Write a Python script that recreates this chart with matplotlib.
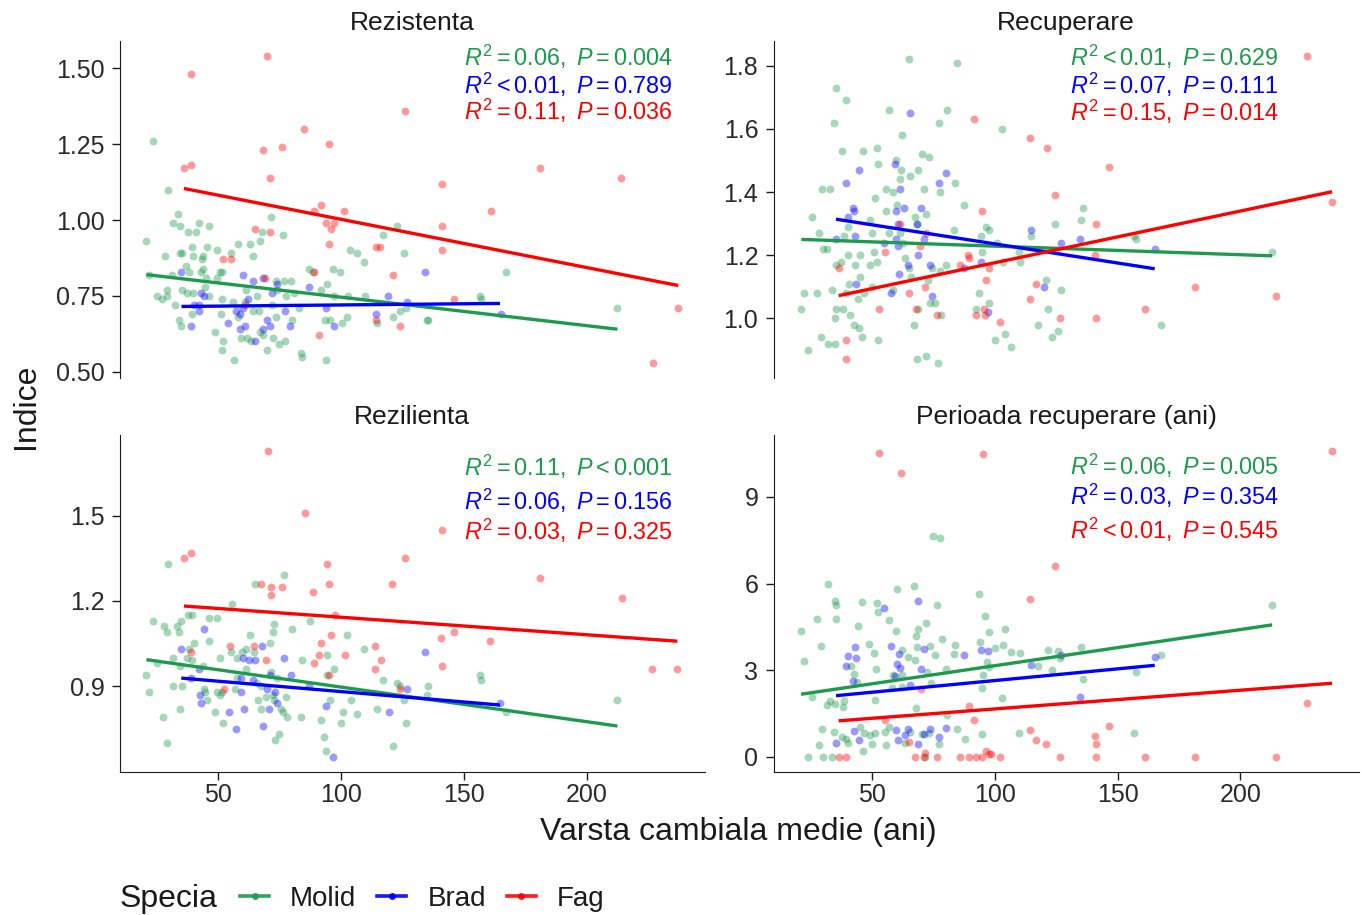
import matplotlib
matplotlib.use("Agg")
import matplotlib.pyplot as plt
from matplotlib.lines import Line2D

plt.rcParams['font.family'] = ['Liberation Sans', 'DejaVu Sans']
plt.rcParams['mathtext.fontset'] = 'custom'
plt.rcParams['mathtext.rm'] = 'Liberation Sans'
plt.rcParams['mathtext.it'] = 'Liberation Sans:italic'

specii = ["Molid", "Brad", "Fag"]
culori = {"Molid": "#1d9a4b", "Brad": "#0000ff", "Fag": "#ff0000"}

# (varsta cambiala medie, indice) pentru fiecare arbore
rezistenta_molid = [
    (23.4, 1.26), (29.6, 1.10), (33.4, 1.02), (31.5, 0.99), (34.5, 0.98), (42.2, 0.99), (46.1, 0.98),
    (37.8, 0.96), (40.8, 0.96), (71.6, 1.01), (67.8, 0.96), (76.3, 0.95), (20.7, 0.93), (39.1, 0.91),
    (45.4, 0.91), (49.4, 0.90), (57.9, 0.92), (62.9, 0.92), (66.8, 0.93), (28.1, 0.88), (34.5, 0.89),
    (35.1, 0.89), (39.8, 0.88), (43.3, 0.87), (43.9, 0.88), (55.3, 0.89), (64.0, 0.88), (103.8, 0.90),
    (106.5, 0.89), (109.5, 0.86), (117.2, 0.95), (122.9, 0.98), (125.5, 0.89), (21.9, 0.82), (31.2, 0.82),
    (37.0, 0.85), (38.2, 0.83), (42.8, 0.83), (43.9, 0.84), (50.7, 0.83), (51.5, 0.83), (44.8, 0.81),
    (49.4, 0.81), (87.1, 0.84), (88.7, 0.83), (96.8, 0.84), (99.7, 0.83), (29.3, 0.77), (35.1, 0.77),
    (37.4, 0.76), (39.8, 0.76), (44.4, 0.78), (46.2, 0.75), (51.3, 0.74), (56.0, 0.73), (61.1, 0.77),
    (65.9, 0.75), (73.3, 0.80), (76.7, 0.80), (79.5, 0.80), (74.0, 0.77), (77.4, 0.75), (80.8, 0.76),
    (91.7, 0.77), (94.4, 0.79), (97.1, 0.75), (102.8, 0.75), (109.6, 0.75), (25.1, 0.75), (27.2, 0.74),
    (28.9, 0.75), (32.3, 0.72), (50.9, 0.69), (58.0, 0.68), (64.0, 0.70), (66.6, 0.70), (73.3, 0.68),
    (80.1, 0.67), (82.9, 0.71), (93.3, 0.67), (95.3, 0.67), (100.5, 0.66), (102.4, 0.68), (34.0, 0.67),
    (34.8, 0.65), (39.3, 0.69), (48.5, 0.63), (51.9, 0.60), (51.6, 0.57), (56.4, 0.54), (59.4, 0.61),
    (61.8, 0.61), (63.2, 0.60), (67.1, 0.63), (68.2, 0.62), (69.8, 0.57), (72.1, 0.61), (74.6, 0.59),
    (77.2, 0.60), (83.5, 0.56), (84.2, 0.55), (93.7, 0.54), (114.8, 0.66), (121.1, 0.68), (124.0, 0.70),
    (126.4, 0.71), (72.0, 0.72), (60.7, 0.73), (167.2, 0.83), (156.4, 0.75), (156.9, 0.74), (135.5, 0.67),
    (134.8, 0.67), (212.5, 0.71),
]
rezistenta_brad = [
    (35, 0.83), (60, 0.82), (64, 0.80), (68, 0.81), (74, 0.79), (87, 0.78), (43, 0.76), (44, 0.75),
    (62, 0.74), (72, 0.76), (40, 0.72), (42, 0.72), (42, 0.70), (57, 0.70), (59, 0.69), (60, 0.71),
    (77, 0.70), (94, 0.71), (119, 0.75), (127, 0.73), (114, 0.69), (39, 0.65), (54, 0.66), (61, 0.65),
    (59, 0.64), (70, 0.67), (71, 0.65), (68, 0.64), (79, 0.65), (97, 0.65), (65, 0.60), (134, 0.83),
    (165, 0.69),
]
rezistenta_fag = [
    (70, 1.54), (39, 1.48), (126, 1.36), (85, 1.30), (68, 1.23), (76, 1.24), (95, 1.25), (36, 1.17),
    (39, 1.18), (71, 1.14), (92, 1.05), (89, 1.03), (101, 1.03), (94, 0.99), (97, 0.99), (96, 0.97),
    (65, 0.97), (71, 0.96), (95, 0.92), (114, 0.91), (116, 0.91), (52, 0.87), (55, 0.87), (89, 0.83),
    (121, 0.82), (69, 0.81), (61, 0.72), (114, 0.67), (124, 0.65), (91, 0.62), (181, 1.17), (214, 1.14),
    (141, 1.12), (161, 1.03), (141, 0.98), (141, 0.90), (146, 0.74), (237, 0.71), (227, 0.53),
]

recuperare_molid = [
    (65.1, 1.82), (84.5, 1.81), (35.2, 1.73), (39.5, 1.69), (34.5, 1.62), (56.9, 1.66), (80.4, 1.66),
    (77.3, 1.62), (62.2, 1.58), (102.8, 1.60), (37.8, 1.53), (46.5, 1.53), (52.0, 1.54), (70.2, 1.52),
    (73.2, 1.51), (59.8, 1.50), (52.4, 1.49), (61.9, 1.47), (68.6, 1.47), (65.3, 1.45), (61.5, 1.44),
    (29.6, 1.41), (33.0, 1.41), (55.6, 1.41), (58.4, 1.40), (71.3, 1.41), (77.6, 1.40), (83.8, 1.43),
    (51.3, 1.38), (60.2, 1.36), (55.8, 1.34), (72.0, 1.33), (87.6, 1.36), (25.5, 1.32), (49.0, 1.31),
    (67.6, 1.32), (68.2, 1.30), (28.5, 1.27), (40.1, 1.29), (49.8, 1.27), (56.8, 1.27), (61.4, 1.27),
    (94.3, 1.26), (96.2, 1.29), (97.6, 1.28), (83.3, 1.28), (38.4, 1.26), (62.5, 1.24), (30.0, 1.22),
    (31.6, 1.22), (94.8, 1.21), (100.9, 1.24), (109.7, 1.21), (124.4, 1.30), (114.9, 1.26), (40.3, 1.20),
    (45.1, 1.20), (50.9, 1.21), (35.3, 1.17), (37.4, 1.18), (42.9, 1.17), (49.2, 1.17), (51.9, 1.18),
    (63.6, 1.19), (64.9, 1.16), (79.9, 1.17), (74.2, 1.16), (103.4, 1.18), (110.1, 1.18), (40.5, 1.11),
    (45.0, 1.13), (50.0, 1.10), (58.4, 1.09), (66.0, 1.13), (72.7, 1.12), (77.8, 1.15), (22.3, 1.08),
    (27.7, 1.08), (33.7, 1.09), (39.5, 1.08), (44.3, 1.06), (46.6, 1.08), (93.4, 1.08), (120.9, 1.12),
    (126.8, 1.09), (21.2, 1.03), (35.5, 1.03), (38.3, 1.03), (35.0, 1.00), (41.2, 1.01), (42.8, 0.98),
    (44.6, 0.97), (73.5, 1.05), (75.5, 1.05), (68.7, 1.03), (78.2, 1.01), (92.4, 1.03), (97.5, 1.05),
    (29.3, 0.94), (31.9, 0.92), (35.0, 0.92), (45.8, 0.94), (52.3, 0.93), (67.2, 0.98), (100.2, 0.93),
    (104.3, 0.95), (106.7, 0.91), (117.6, 0.98), (121.5, 1.03), (123.3, 0.94), (125.8, 0.96), (23.8, 0.90),
    (68.3, 0.87), (72.1, 0.88), (76.7, 0.86), (135.9, 1.35), (135.2, 1.31), (156.8, 1.26), (157.3, 1.25),
    (212.9, 1.21), (167.5, 0.98),
]
recuperare_brad = [
    (65.3, 1.65), (44.6, 1.47), (39.3, 1.43), (59.5, 1.49), (79.9, 1.46), (77.1, 1.43), (61.5, 1.41),
    (42.2, 1.35), (42.6, 1.34), (63.0, 1.35), (69.9, 1.35), (59.8, 1.34), (68.3, 1.30), (60.4, 1.30),
    (40.2, 1.32), (35.3, 1.25), (42.9, 1.26), (59.9, 1.25), (54.9, 1.24), (60.6, 1.23), (71.3, 1.25),
    (68.7, 1.20), (64.6, 1.17), (73.5, 1.17), (94.3, 1.18), (87.5, 1.16), (114.9, 1.28), (127.1, 1.24),
    (61.0, 1.14), (43.5, 1.11), (57.7, 1.08), (74.3, 1.07), (119.9, 1.10), (97.1, 1.02), (134.8, 1.25),
    (165.1, 1.22),
]
recuperare_fag = [
    (91.5, 1.63), (114.2, 1.57), (121.1, 1.54), (124.4, 1.39), (94.8, 1.34), (72.0, 1.27), (69.7, 1.23),
    (55.3, 1.21), (89.1, 1.20), (89.4, 1.19), (85.7, 1.17), (97.5, 1.16), (36.4, 1.16), (96.2, 1.12),
    (116.8, 1.11), (71.6, 1.10), (65.1, 1.08), (114.4, 1.06), (52.8, 1.03), (67.8, 1.03), (76.5, 1.01),
    (92.2, 1.01), (95.5, 1.03), (95.9, 1.01), (101.9, 0.99), (126.4, 1.00), (39.4, 0.93), (39.4, 0.87),
    (61.5, 1.30), (227.1, 1.83), (146.6, 1.48), (141.3, 1.30), (140.9, 1.20), (237.3, 1.37), (181.4, 1.10),
    (214.6, 1.07), (161.1, 1.03), (141.3, 1.00),
]

rezilienta_molid = [
    (29.6, 1.33), (76.9, 1.29), (64.8, 1.26), (55.4, 1.19), (37.6, 1.15), (39.1, 1.15), (46.1, 1.14),
    (49.4, 1.14), (23.2, 1.13), (28.0, 1.11), (29.3, 1.09), (34.0, 1.09), (34.8, 1.13), (33.3, 1.11),
    (72.7, 1.12), (72.3, 1.09), (80.1, 1.10), (87.2, 1.13), (62.9, 1.08), (71.2, 1.05), (46.1, 1.06),
    (40.1, 1.05), (38.2, 1.03), (102.4, 1.08), (109.5, 1.03), (94.4, 1.01), (84.1, 0.99), (50.7, 1.00),
    (55.3, 1.02), (59.8, 1.02), (61.1, 1.03), (57.7, 1.00), (64.7, 1.02), (25.1, 0.98), (31.7, 1.00),
    (34.5, 0.97), (37.1, 1.00), (39.3, 0.99), (43.6, 0.97), (20.7, 0.94), (31.5, 0.90), (35.1, 0.90),
    (44.0, 0.89), (44.4, 0.88), (49.6, 0.88), (50.7, 0.87), (51.6, 0.88), (45.5, 0.85), (48.6, 0.81),
    (56.8, 0.89), (61.1, 0.96), (57.7, 0.93), (65.6, 0.91), (67.2, 0.90), (71.6, 0.95), (74.0, 0.93),
    (66.3, 0.85), (67.2, 0.82), (69.5, 0.86), (72.3, 0.87), (72.8, 0.85), (75.4, 0.82), (77.4, 0.86),
    (76.5, 0.81), (77.8, 0.79), (83.5, 0.79), (91.7, 0.78), (93.0, 0.72), (93.7, 0.67), (95.6, 0.85),
    (97.2, 0.96), (99.8, 0.77), (100.6, 0.81), (103.9, 0.85), (106.3, 0.80), (114.5, 0.82), (117.2, 0.92),
    (122.9, 0.91), (124.0, 0.90), (125.4, 0.85), (126.3, 0.77), (121.1, 0.69), (21.9, 0.88), (27.3, 0.79),
    (28.9, 0.70), (34.5, 0.82), (51.9, 0.77), (74.6, 0.73), (73.2, 0.71), (94.4, 0.94), (156.4, 0.94),
    (156.9, 0.92), (135.5, 0.90), (134.8, 0.87), (167.1, 0.81), (212.5, 0.85),
]
rezilienta_brad = [
    (44.1, 1.10), (34.9, 1.03), (67.9, 1.04), (76.7, 1.00), (60.0, 1.00), (62.5, 0.99), (64.9, 0.99),
    (79.5, 0.94), (71.0, 0.94), (39.0, 0.93), (42.2, 0.96), (59.1, 0.93), (64.2, 0.92), (70.0, 0.89),
    (86.9, 0.90), (59.4, 0.88), (73.1, 0.88), (42.5, 0.87), (43.1, 0.84), (73.9, 0.84), (70.8, 0.82),
    (60.4, 0.82), (54.3, 0.81), (94.0, 0.83), (119.5, 0.81), (68.3, 0.76), (57.3, 0.75), (96.6, 0.65),
    (126.7, 0.89), (134.2, 1.02), (164.7, 0.84),
]
rezilienta_fag = [
    (70.4, 1.73), (85.4, 1.51), (36.0, 1.35), (39.0, 1.37), (126.0, 1.35), (94.4, 1.33), (95.2, 1.26),
    (67.5, 1.26), (71.3, 1.25), (75.9, 1.25), (71.4, 1.22), (88.7, 1.23), (120.6, 1.26), (97.5, 1.15),
    (95.8, 1.08), (91.7, 1.05), (54.7, 1.04), (64.5, 1.04), (39.0, 1.02), (91.0, 1.01), (101.5, 1.01),
    (69.3, 0.99), (89.0, 0.98), (113.8, 1.04), (116.4, 0.99), (113.9, 0.96), (95.1, 0.94), (52.3, 0.89),
    (124.0, 0.89), (140.9, 1.45), (181.0, 1.28), (214.2, 1.21), (140.5, 1.07), (145.9, 1.09), (160.7, 1.06),
    (140.9, 0.97), (226.7, 0.96), (236.9, 0.96),
]

perioada_molid = [
    (75.0, 7.66), (77.6, 7.59), (31.9, 5.97), (60.2, 5.82), (67.2, 5.93), (93.4, 5.63), (34.9, 5.40),
    (35.5, 5.24), (45.8, 5.37), (52.0, 5.33), (52.3, 5.03), (76.6, 5.26), (27.7, 4.79), (35.5, 4.79),
    (56.9, 4.73), (95.9, 4.88), (21.1, 4.36), (44.4, 4.54), (59.8, 4.37), (68.7, 4.43), (72.0, 4.65),
    (97.6, 4.34), (104.3, 4.42), (29.3, 3.84), (48.8, 3.90), (68.0, 4.17), (73.5, 3.85), (78.4, 4.07),
    (83.9, 3.88), (93.8, 3.96), (100.2, 3.76), (103.4, 3.89), (50.7, 3.59), (62.2, 3.70), (68.2, 3.82),
    (75.5, 3.54), (83.3, 3.57), (106.7, 3.62), (110.1, 3.59), (121.5, 3.70), (125.8, 3.68), (22.3, 3.31),
    (41.3, 3.15), (51.7, 3.06), (64.6, 3.47), (67.6, 3.36), (96.8, 3.30), (97.5, 3.11), (117.6, 3.13),
    (123.3, 3.01), (42.8, 2.86), (43.9, 2.61), (58.7, 2.83), (62.0, 2.83), (72.5, 2.94), (79.9, 3.05),
    (73.9, 2.57), (95.2, 2.82), (94.8, 2.40), (58.1, 2.38), (62.0, 2.43), (25.5, 2.07), (31.6, 1.78),
    (33.0, 1.94), (34.9, 1.82), (38.4, 1.95), (38.3, 1.74), (51.1, 1.97), (68.0, 1.70), (80.5, 1.45),
    (102.8, 2.05), (29.7, 0.98), (34.4, 0.87), (37.8, 0.70), (39.5, 0.61), (40.2, 0.47), (45.2, 1.02),
    (46.6, 0.82), (49.3, 0.76), (51.3, 0.82), (55.4, 0.85), (56.8, 1.02), (65.6, 0.88), (70.4, 0.80),
    (73.1, 0.82), (77.4, 0.45), (84.6, 0.97), (87.7, 0.61), (94.8, 0.81), (109.9, 0.82), (28.5, 0.40),
    (46.5, 0.21), (49.8, 0.45), (55.8, 0.40), (23.8, 0.00), (30.0, 0.00), (33.7, 0.00), (63.6, 0.47),
    (71.7, 0.00), (212.9, 5.24), (126.6, 3.42), (135.2, 3.81), (167.5, 3.52), (135.9, 2.71), (157.3, 2.93),
    (156.8, 0.82),
]
perioada_brad = [
    (54.7, 5.15), (68.7, 5.40), (43.2, 3.80), (40.2, 3.49), (43.5, 3.44), (39.3, 3.13), (42.2, 2.64),
    (57.6, 3.84), (60.8, 3.55), (71.2, 3.74), (60.2, 3.21), (61.5, 3.07), (69.9, 3.06), (59.5, 2.80),
    (65.5, 2.50), (87.3, 3.51), (94.3, 3.70), (97.1, 3.68), (114.9, 3.17), (127.1, 3.52), (42.6, 0.89),
    (44.6, 0.59), (35.3, 0.47), (59.8, 0.94), (63.3, 0.77), (64.6, 0.96), (60.4, 0.59), (68.5, 0.45),
    (73.5, 0.97), (71.0, 0.80), (77.1, 0.70), (79.9, 0.99), (165.1, 3.45), (134.8, 2.09),
]
perioada_fag = [
    (52.8, 10.51), (95.3, 10.49), (61.7, 9.83), (124.4, 6.59), (114.4, 5.45), (69.8, 2.35), (89.4, 1.77),
    (55.3, 1.28), (91.5, 1.28), (114.1, 0.93), (116.8, 0.59), (121.0, 0.45), (64.9, 0.53), (36.4, 0.00),
    (39.4, 0.00), (67.6, 0.00), (71.0, 0.00), (71.7, 0.15), (76.3, 0.00), (85.7, 0.00), (89.4, 0.00),
    (92.2, 0.00), (94.8, 0.00), (96.2, 0.22), (97.5, 0.09), (98.5, 0.10), (101.9, 0.00), (126.4, 0.00),
    (237.3, 10.60), (227.1, 1.88), (146.6, 1.07), (140.9, 0.74), (141.3, 0.44), (141.3, 0.00), (161.1, 0.00),
    (181.4, 0.00), (214.6, 0.00),
]

# dreptele de regresie: (x inceput, y inceput, x sfarsit, y sfarsit)
rezistenta_fit = {"Molid": (20.7, 0.82, 212.5, 0.64), "Brad": (35.0, 0.715, 164.7, 0.725), "Fag": (36.0, 1.104, 237.3, 0.784)}
recuperare_fit = {"Molid": (21.2, 1.250, 212.9, 1.198), "Brad": (35.3, 1.314, 165.1, 1.157), "Fag": (36.4, 1.072, 237.3, 1.401)}
rezilienta_fit = {"Molid": (20.7, 0.993, 212.5, 0.759), "Brad": (34.9, 0.928, 164.7, 0.833), "Fag": (36.0, 1.182, 236.9, 1.058)}
perioada_fit = {"Molid": (21.1, 2.17, 212.9, 4.57), "Brad": (35.3, 2.12, 165.1, 3.17), "Fag": (36.4, 1.25, 237.3, 2.55)}

rezistenta_eq = [r"$R^2 = 0.06,\ P = 0.004$", r"$R^2 < 0.01,\ P = 0.789$", r"$R^2 = 0.11,\ P = 0.036$"]
recuperare_eq = [r"$R^2 < 0.01,\ P = 0.629$", r"$R^2 = 0.07,\ P = 0.111$", r"$R^2 = 0.15,\ P = 0.014$"]
rezilienta_eq = [r"$R^2 = 0.11,\ P < 0.001$", r"$R^2 = 0.06,\ P = 0.156$", r"$R^2 = 0.03,\ P = 0.325$"]
perioada_eq = [r"$R^2 = 0.06,\ P = 0.005$", r"$R^2 = 0.03,\ P = 0.354$", r"$R^2 < 0.01,\ P = 0.545$"]

panouri = [
    ("Rezistenta", [rezistenta_molid, rezistenta_brad, rezistenta_fag], rezistenta_fit, rezistenta_eq,
     [0.50, 0.75, 1.00, 1.25, 1.50], "{:.2f}", [0.088, 0.587], 0.945, [0.953, 0.869, 0.792]),
    ("Recuperare", [recuperare_molid, recuperare_brad, recuperare_fag], recuperare_fit, recuperare_eq,
     [1.0, 1.2, 1.4, 1.6, 1.8], "{:.1f}", [0.568, 0.587], 0.863, [0.953, 0.869, 0.790]),
    ("Rezilienta", [rezilienta_molid, rezilienta_brad, rezilienta_fag], rezilienta_fit, rezilienta_eq,
     [0.9, 1.2, 1.5], "{:.1f}", [0.088, 0.156], 0.945, [0.905, 0.804, 0.715]),
    ("Perioada recuperare (ani)", [perioada_molid, perioada_brad, perioada_fag], perioada_fit, perioada_eq,
     [0, 3, 6, 9], "{:.0f}", [0.568, 0.156], 0.863, [0.908, 0.819, 0.718]),
]

fig = plt.figure(figsize=(13.62, 9.15), dpi=100)
fig.patch.set_facecolor("white")

for i, (titlu, grupe, fit, eq, yt, fmt, poz, tx, ty) in enumerate(panouri):
    ax = fig.add_axes([poz[0], poz[1], 0.4295, 0.3683])
    for sp, puncte in zip(specii, grupe):
        xs = [p[0] for p in puncte]
        ys = [p[1] for p in puncte]
        ax.scatter(xs, ys, s=32, color=culori[sp], alpha=0.4, linewidths=0, zorder=2)
    for sp in specii:
        x0, y0, x1, y1 = fit[sp]
        ax.plot([x0, x1], [y0, y1], color=culori[sp], lw=2.4, solid_capstyle="butt", zorder=3)
    for sp, t, y in zip(specii, eq, ty):
        ax.text(tx, y, t, transform=ax.transAxes, ha="right", va="center",
                color=culori[sp], fontsize=16.8)

    ax.set_xlim(9.9, 248.1)
    ax.margins(y=0.05)
    ax.set_yticks(yt)
    ax.set_yticklabels([fmt.format(v) for v in yt])
    ax.set_xticks([50, 100, 150, 200])
    ax.set_title(titlu, fontsize=19, pad=8, color="#1a1a1a")

    for s in ["top", "right"]:
        ax.spines[s].set_visible(False)
    ax.spines["left"].set_color("#1a1a1a")
    ax.spines["bottom"].set_color("#1a1a1a")
    ax.tick_params(axis="both", labelsize=18, labelcolor="#2b2b2b", color="#1a1a1a",
                   length=6, width=1, direction="out", pad=5)
    ax.tick_params(axis="x", pad=2)
    if i < 2:
        ax.spines["bottom"].set_visible(False)
        ax.tick_params(axis="x", bottom=False, labelbottom=False)

fig.text(0.019, 0.556, "Indice", rotation=90, ha="center", va="center", fontsize=23, color="#1a1a1a")
fig.text(0.542, 0.091, "Varsta cambiala medie (ani)", ha="center", va="center", fontsize=23, color="#1a1a1a")

# legenda de jos
fig.text(0.088, 0.018, "Specia", ha="left", va="center", fontsize=23, color="#1a1a1a")
handles = [Line2D([0], [0], color=culori[sp], lw=2.6, marker="o", markersize=5,
                  markerfacecolor=culori[sp], markeredgewidth=0, alpha=0.9) for sp in specii]
fig.legend(handles, specii, loc="center left", bbox_to_anchor=(0.158, 0.018), ncol=3,
           frameon=False, fontsize=20, handlelength=1.05, columnspacing=0.75, handletextpad=0.75,
           labelcolor="#1a1a1a")

fig.savefig("out.png", dpi=100, facecolor="white")
